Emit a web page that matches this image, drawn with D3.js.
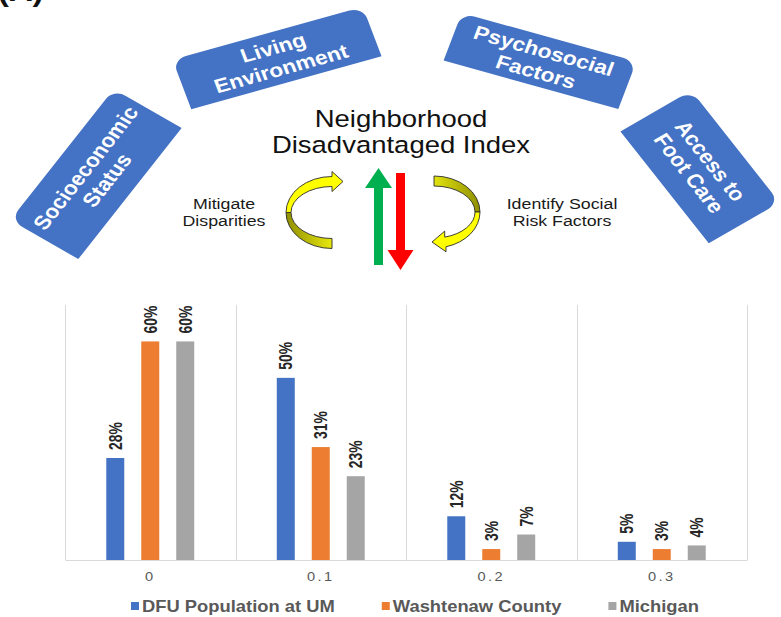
<!DOCTYPE html>
<html>
<head>
<meta charset="utf-8">
<script src="https://cdn.jsdelivr.net/npm/d3@7"></script>
<style>
  html, body { margin: 0; padding: 0; background: #ffffff; }
  svg { display: block; font-family: "Liberation Sans", Arial, Helvetica, sans-serif; }
</style>
</head>
<body>
<svg id="chart" width="781" height="617"></svg>
<script>
// ---- data ----
const categories = ["0", "0.1", "0.2", "0.3"];
const seriesNames = ["DFU Population at UM", "Washtenaw County", "Michigan"];
const dfuValues = [0.28, 0.50, 0.12, 0.05];
const washtenawValues = [0.60, 0.31, 0.03, 0.03];
const michiganValues = [0.60, 0.23, 0.07, 0.04];
const seriesColors = ["#4472C4", "#ED7D31", "#A5A5A5"];

const factorLabels = [
  ["Socioeconomic", "Status"],
  ["Living", "Environment"],
  ["Psychosocial", "Factors"],
  ["Access to", "Foot Care"]
];
const indexTitle = ["Neighborhood", "Disadvantaged Index"];
const leftNote = ["Mitigate", "Disparities"];
const rightNote = ["Identify Social", "Risk Factors"];
const panelTag = "(A)";

// ---- layout ----
const W = 781, H = 617;
const SX = 1.17;              // horizontal stretch of the whole figure
const svg = d3.select("#chart");

// panel tag, mostly above the top edge
svg.append("text")
  .attr("transform", `translate(-2,1) scale(${SX},1)`)
  .attr("font-size", 28).attr("font-weight", "bold").attr("fill", "#111")
  .text(panelTag);

// ---- factor boxes (top corners rounded) ----
const boxLayout = [
  { cx: 96,  cy: 174, w: 158, h: 70, a: -56 },
  { cx: 277, cy: 58,  w: 171, h: 52, a: -18 },
  { cx: 540, cy: 61,  w: 157, h: 50, a: 18 },
  { cx: 700, cy: 167, w: 135, h: 73, a: 56 }
];
function topRoundedRect(w, h, r) {
  const x0 = -w / 2, x1 = w / 2, y0 = -h / 2, y1 = h / 2;
  return `M${x0},${y1} L${x0},${y0 + r} A${r},${r} 0 0 1 ${x0 + r},${y0}` +
         ` L${x1 - r},${y0} A${r},${r} 0 0 1 ${x1},${y0 + r} L${x1},${y1} Z`;
}
const boxes = svg.append("g").selectAll("g")
  .data(factorLabels)
  .join("g")
  .attr("transform", (d, i) => {
    const b = boxLayout[i];
    return `translate(${b.cx},${b.cy}) scale(${SX},1) rotate(${b.a})`;
  });
boxes.append("path")
  .attr("d", (d, i) => topRoundedRect(boxLayout[i].w, boxLayout[i].h, 12))
  .attr("fill", "#4472C4");
boxes.each(function (lines) {
  const t = d3.select(this).append("text")
    .attr("text-anchor", "middle")
    .attr("font-size", 19.5).attr("font-weight", "bold").attr("fill", "#ffffff");
  lines.forEach((s, j) => t.append("tspan").attr("x", 0).attr("y", j === 0 ? -4 : 18).text(s));
});

// ---- central title ----
const title = svg.append("g");
indexTitle.forEach((s, j) => {
  title.append("text")
    .attr("transform", `translate(401,${j === 0 ? 127 : 153}) scale(${SX},1)`)
    .attr("text-anchor", "middle").attr("font-size", 23.5).attr("fill", "#111")
    .text(s);
});

// ---- side notes ----
function note(lines, cx) {
  lines.forEach((s, j) => {
    svg.append("text")
      .attr("transform", `translate(${cx},${j === 0 ? 209 : 226}) scale(${SX},1)`)
      .attr("text-anchor", "middle").attr("font-size", 15.2).attr("fill", "#1a1a1a")
      .text(s);
  });
}
note(leftNote, 224);
note(rightNote, 562);

// ---- straight arrows (up green, down red) ----
function vArrow(cx, tail, tip, shaftW, headW, headLen, color) {
  const dir = tip < tail ? -1 : 1;
  const base = tip - dir * headLen;
  const p = d3.path();
  p.moveTo(cx - shaftW / 2, tail);
  p.lineTo(cx - shaftW / 2, base);
  p.lineTo(cx - headW / 2, base);
  p.lineTo(cx, tip);
  p.lineTo(cx + headW / 2, base);
  p.lineTo(cx + shaftW / 2, base);
  p.lineTo(cx + shaftW / 2, tail);
  p.closePath();
  svg.append("path").attr("d", p.toString()).attr("fill", color);
}
vArrow(378.5, 265, 168, 9, 27, 20, "#00B050");
vArrow(400.5, 173, 270, 9, 26, 20, "#FF0000");

// ---- curved yellow arrows ----
const defs = svg.append("defs");
function grad(id, x1, x2, c1, c2) {
  const g = defs.append("linearGradient").attr("id", id)
    .attr("gradientUnits", "userSpaceOnUse")
    .attr("x1", x1).attr("y1", 0).attr("x2", x2).attr("y2", 0);
  g.append("stop").attr("offset", 0).attr("stop-color", c1);
  g.append("stop").attr("offset", 1).attr("stop-color", c2);
}
grad("backL", 286, 334, "#8f8f00", "#ecec10");
grad("backR", 432, 480, "#e6e610", "#8f8f00");

const ribbon = svg.append("g").attr("stroke", "#2b2b2b").attr("stroke-width", 0.9).attr("stroke-linejoin", "round");
// left arrow: lower back band, upper front band with head pointing right
{
  const cx = 332, cy = 212.5, ro = [46, 36], ri = [41, 26];
  ribbon.append("path").attr("fill", "url(#backL)")
    .attr("d", `M${cx - ro[0]},${cy} A${ro[0]},${ro[1]} 0 0 0 ${cx},${cy + ro[1]}` +
               ` L${cx},${cy + ri[1]} A${ri[0]},${ri[1]} 0 0 1 ${cx - ri[0]},${cy} Z`);
  ribbon.append("path").attr("fill", "#FFFF00")
    .attr("d", `M${cx - ro[0]},${cy} A${ro[0]},${ro[1]} 0 0 1 ${cx},${cy - ro[1]}` +
               ` L${cx},${cy - ro[1] - 5} L${cx + 11},${cy - 31} L${cx},${cy - ri[1] + 5}` +
               ` L${cx},${cy - ri[1]} A${ri[0]},${ri[1]} 0 0 0 ${cx - ri[0]},${cy} Z`);
}
// right arrow: upper back band, lower front band with head pointing left
{
  const cx = 434, cy = 212, ro = [46, 36], ri = [41, 26];
  const ang = Math.acos(12 / 46);
  const ox = cx + ro[0] * Math.cos(ang), oy = cy + ro[1] * Math.sin(ang);
  const ix = cx + ri[0] * Math.cos(ang), iy = cy + ri[1] * Math.sin(ang);
  ribbon.append("path").attr("fill", "url(#backR)")
    .attr("d", `M${cx},${cy - ro[1]} A${ro[0]},${ro[1]} 0 0 1 ${cx + ro[0]},${cy}` +
               ` L${cx + ri[0]},${cy} A${ri[0]},${ri[1]} 0 0 0 ${cx},${cy - ri[1]} Z`);
  ribbon.append("path").attr("fill", "#FFFF00")
    .attr("d", `M${cx + ro[0]},${cy} A${ro[0]},${ro[1]} 0 0 1 ${ox},${oy}` +
               ` L${ox},${oy + 5} L${cx - 2},${cy + 30} L${ix},${iy - 6}` +
               ` L${ix},${iy} A${ri[0]},${ri[1]} 0 0 0 ${cx + ri[0]},${cy} Z`);
}

// ---- bar chart ----
const plot = { left: 65, right: 747, top: 305, bottom: 560 };
const seriesValues = [dfuValues, washtenawValues, michiganValues];
const rows = categories.map((c, i) => ({
  cat: c,
  vals: seriesNames.map((s, k) => ({ series: s, k, value: seriesValues[k][i] }))
}));

const x0 = d3.scaleBand().domain(categories).range([plot.left, plot.right]);
const x1 = d3.scaleBand().domain(seriesNames).range([0, x0.bandwidth()])
  .paddingInner(0.486).paddingOuter(1.18);
const y = d3.scaleLinear().domain([0, 0.7]).range([plot.bottom, plot.top]);

// vertical separators between categories
const bounds = categories.map(c => x0(c)).concat([x0(categories[categories.length - 1]) + x0.bandwidth()]);
svg.append("g").selectAll("line").data(bounds).join("line")
  .attr("x1", d => Math.round(d) + 0.5).attr("x2", d => Math.round(d) + 0.5)
  .attr("y1", plot.top).attr("y2", plot.bottom)
  .attr("stroke", "#D9D9D9").attr("stroke-width", 1);

const groups = svg.append("g").selectAll("g").data(rows).join("g")
  .attr("transform", d => `translate(${x0(d.cat)},0)`);
groups.selectAll("rect").data(d => d.vals).join("rect")
  .attr("x", d => x1(d.series)).attr("width", x1.bandwidth())
  .attr("y", d => y(d.value)).attr("height", d => y(0) - y(d.value))
  .attr("fill", d => seriesColors[d.k]);

const pct = d3.format(".0%");
groups.selectAll("text").data(d => d.vals).join("text")
  .attr("transform", d => `translate(${x1(d.series) + x1.bandwidth() / 2},${y(d.value) - 8}) rotate(-90) scale(0.82,1.12)`)
  .attr("dy", "0.35em")
  .attr("font-size", 17).attr("font-weight", "bold").attr("fill", "#262626")
  .text(d => pct(d.value));

// category axis
const axis = svg.append("g").attr("transform", `translate(0,${plot.bottom})`)
  .call(d3.axisBottom(x0).tickSize(0).tickPadding(12));
axis.select(".domain").attr("stroke", "#D9D9D9");
axis.selectAll("text")
  .attr("font-family", "\"Liberation Sans\", Arial, sans-serif")
  .attr("font-size", 12.5).attr("fill", "#595959")
  .attr("letter-spacing", "2px")
  .attr("transform", `scale(${SX},1)`);

// legend
const legend = svg.append("g").attr("transform", "translate(0,606)");
let lx = 131;
seriesNames.forEach((s, k) => {
  legend.append("rect").attr("x", lx).attr("y", -4).attr("width", 8).attr("height", 8)
    .attr("fill", seriesColors[k]);
  const t = legend.append("text")
    .attr("transform", `translate(${lx + 11},5.5) scale(${SX},1)`)
    .attr("font-size", 15.7).attr("font-weight", "bold").attr("fill", "#595959")
    .text(s);
  lx += 11 + t.node().getComputedTextLength() * SX + 47;
});
</script>
</body>
</html>
